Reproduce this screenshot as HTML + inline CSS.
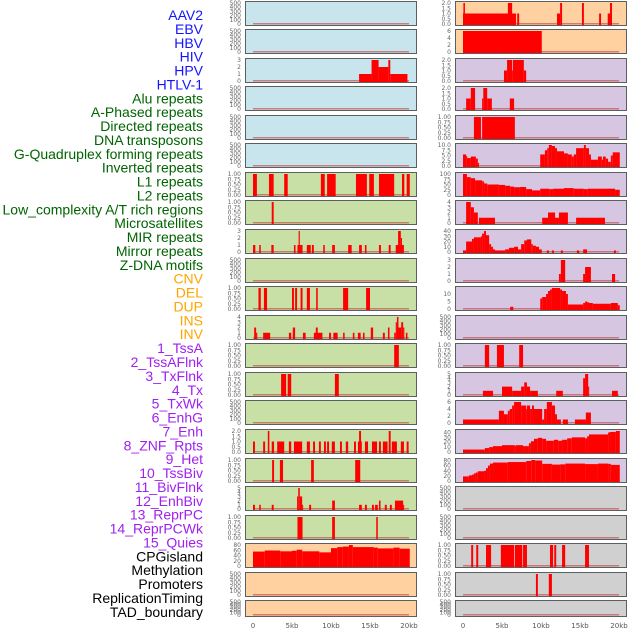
<!DOCTYPE html>
<html><head><meta charset="utf-8">
<style>
html,body{margin:0;padding:0;background:#fff;width:630px;height:630px;overflow:hidden}
svg{display:block}
</style></head>
<body>
<svg id="chart" width="630" height="630" xmlns="http://www.w3.org/2000/svg"></svg>
<script>
const labels=["AAV2","EBV","HBV","HIV","HPV","HTLV-1","Alu repeats","A-Phased repeats","Directed repeats","DNA transposons","G-Quadruplex forming repeats","Inverted repeats","L1 repeats","L2 repeats","Low_complexity A/T rich regions","Microsatellites","MIR repeats","Mirror repeats","Z-DNA motifs","CNV","DEL","DUP","INS","INV","1_TssA","2_TssAFlnk","3_TxFlnk","4_Tx","5_TxWk","6_EnhG","7_Enh","8_ZNF_Rpts","9_Het","10_TssBiv","11_BivFlnk","12_EnhBiv","13_ReprPC","14_ReprPCWk","15_Quies","CPGisland","Methylation","Promoters","ReplicationTiming","TAD_boundary"];
const xTicks=[0,5,10,15,20];
const xTickLabels=["0","5kb","10kb","15kb","20kb"];
const T500=[0,100,200,300,400,500], T1=[0,0.25,0.5,0.75,1], T3=[0,1,2,3], T2=[0,0.5,1,1.5,2];
// Left column segments [startKb,endKb,value]
const L0=[],L1=[],L3=[],L4=[],L5=[],L9=[],L14=[],L20=[],L21=[];
const L2=[[13.6,15.2,1],[15.2,16.1,3],[16.1,17.35,2],[17.35,17.6,3],[17.6,19.8,1]];
const L6=[[0,0.5,1],[2.05,2.65,1],[4.0,4.45,1],[8.7,9.2,1],[9.5,10.6,1],[13.2,14.6,1],[14.9,15.5,1],[16.15,18.1,1],[19.1,19.4,1],[19.7,20.1,1]];
const L7=[[2.4,2.65,1]];
const L8=[[0,0.3,1],[0.8,1.0,1],[2.35,2.65,1],[5.25,5.45,1],[5.7,6.35,1],[5.85,6.0,3],[6.9,7.4,1],[7.55,7.8,1],[9.0,9.2,1],[10.15,10.5,1],[12.2,12.65,1],[13.6,13.95,1],[14.35,14.55,1],[16.15,16.4,1],[17.4,17.65,1],[18.3,19.35,1],[18.6,18.95,3],[18.95,19.1,2]];
const L10=[[0.7,1.0,1],[1.4,1.8,1],[5.0,5.25,1],[5.4,5.65,1],[6.1,6.35,1],[6.9,7.3,1],[8.1,8.3,1],[11.55,12.2,1],[14.5,15.0,1]];
const L11=[[0.15,0.4,2],[0.4,0.55,1],[1.3,2.2,1],[4.6,4.9,1],[5.1,5.4,2],[6.4,6.75,1],[7.8,8.9,1],[8.05,8.3,2],[9.75,10.0,1],[10.3,10.85,1],[11.55,11.75,1],[12.8,13.0,1],[13.45,13.8,1],[14.1,14.3,1],[15.1,15.4,2],[16.65,16.9,1],[17.3,17.5,2],[18.1,18.3,1],[18.3,18.45,3],[18.45,18.65,4],[18.65,19.0,2],[19.0,19.25,3],[19.25,19.4,2],[19.6,19.8,1]];
const L12=[[18.1,18.7,1]];
const L13=[[3.6,4.25,1],[4.45,4.9,1],[10.5,11.0,1]];
const L15=[[0,0.25,1],[1.3,1.55,1],[1.9,2.1,2],[2.4,2.7,1],[3.1,4.0,1],[4.6,4.9,1],[5.25,6.3,1],[6.9,7.3,1],[7.7,7.95,1],[8.45,8.7,1],[9.1,9.35,1],[9.5,9.75,1],[10.1,10.5,1],[11.15,11.4,1],[11.9,12.2,1],[12.95,13.2,1],[13.45,13.95,1],[13.6,13.85,2],[14.35,14.75,1],[15.25,15.9,1],[16.15,16.4,1],[16.65,17.25,1],[17.4,17.65,2],[17.8,18.45,1],[18.95,19.35,1],[19.7,19.95,1]];
const L16=[[2.45,2.7,1],[3.45,3.85,1],[7.45,7.8,1],[13.1,13.75,1]];
const L17=[[0,0.25,1],[0.8,1.0,1],[2.4,2.65,1],[5.65,5.8,3],[5.8,6.0,5],[6.0,6.3,3],[6.3,6.4,1],[7.2,7.45,1],[10.15,10.5,2],[13.6,13.95,1],[14.35,14.6,1],[15.25,15.5,1],[15.65,16.0,1],[16.15,16.35,2],[16.9,17.15,1],[17.55,17.8,1],[18.2,19.25,2],[19.25,19.35,1]];
const L18=[[5.7,6.35,1],[10.15,10.5,1],[15.8,16.0,1]];
const L19=[[0,1.5,55],[1.5,3.5,59],[3.5,5.0,56],[5.0,5.6,58],[5.6,6.3,62],[6.3,8.5,56],[8.5,10,52],[10,10.8,68],[10.8,11.5,72],[11.5,12.3,74],[12.3,12.8,80],[12.8,15.5,72],[15.5,16,70],[16,18,67],[18,18.8,70],[18.8,20.1,66]];
// Right column segments
const R0=[[0,6.8,1],[0.05,0.25,2],[5.75,6.3,2],[6.95,7.2,1],[12.05,12.45,1],[12.45,12.7,2],[15.25,15.5,2],[17.45,17.7,1],[18.55,19.1,1],[18.85,19.1,2]];
const R1=[[0,10.1,6]];
const R2=[[5.25,5.65,1],[5.65,6.3,2],[6.3,6.4,1],[6.4,7.8,2],[7.8,8.1,1]];
const R3=[[0.4,1.0,1],[1.0,1.55,2],[2.45,2.6,1],[2.6,3.1,2],[3.1,3.7,1],[6.0,6.55,1]];
const R4=[[1.4,2.3,1],[2.45,6.65,1]];
const R5=[[0,0.4,5.5],[0.4,0.5,4.8],[0.5,1.0,3.8],[1.0,1.65,4.5],[1.65,1.9,3.5],[1.9,2.05,1.5],[9.9,10.5,5.5],[10.5,10.8,7.5],[10.8,11.0,8.5],[11.0,11.4,10],[11.4,11.8,9.5],[11.8,12.05,8.5],[12.05,12.95,7],[12.95,13.45,6],[13.45,13.95,5.5],[13.95,14.2,4.5],[14.2,14.5,5.5],[14.5,15.5,8.5],[15.5,15.75,10],[15.75,16.15,8.5],[16.15,16.4,5.5],[16.4,17.3,3],[17.3,17.8,4.5],[17.8,17.95,3],[17.95,18.3,4.5],[18.3,18.6,3.5],[18.6,18.95,2],[18.95,19.2,5],[19.2,20.1,6.5]];
const R6=[[0,0.5,100],[0.5,1.0,85],[1.0,1.55,80],[1.55,2.45,70],[2.45,2.7,65],[2.7,3.1,55],[3.1,4.6,50],[4.6,5.4,48],[5.4,6.05,44],[6.05,6.55,40],[6.55,7.3,37],[7.3,8.1,38],[8.1,8.85,28],[8.85,9.9,22],[9.9,11.05,30],[11.05,11.55,28],[11.55,12.95,30],[12.95,14.2,33],[14.2,15.5,30],[15.5,16.0,28],[16.0,19.5,30],[19.5,20.1,25]];
const R7=[[0.4,1.0,4],[1.0,1.4,3],[1.4,1.9,2],[2.05,4.1,1],[10.15,10.9,1],[10.9,11.8,2],[11.8,12.3,1],[12.3,13.45,2],[14.5,18.2,1]];
const R8=[[0,0.4,3],[0.4,1.15,20],[1.15,1.4,25],[1.4,1.8,28],[1.8,2.3,28],[2.3,2.45,30],[2.45,2.7,35],[2.7,2.95,40],[2.95,3.35,32],[3.35,3.6,15],[3.6,3.85,10],[3.85,4.1,5],[4.1,5.4,3],[5.4,5.9,5],[5.9,6.55,8],[6.55,7.05,10],[7.05,7.45,5],[7.45,7.85,15],[7.85,8.2,22],[8.2,8.75,24],[8.75,8.95,15],[8.95,9.35,12],[9.35,9.75,10],[9.75,10.1,5],[10.75,11.0,3],[11.4,11.65,3],[12.55,12.8,3],[14.6,14.9,3],[15.4,15.9,5],[19.35,19.6,3]];
const R9=[[12.3,12.55,1],[12.55,13.1,3],[15.4,15.65,1],[15.65,16.4,2],[19.1,19.5,1]];
const R10=[[6.05,6.45,1.5],[9.9,10.15,7],[10.15,10.65,8],[10.65,10.9,10],[10.9,11.15,12],[11.15,11.4,13],[11.4,12.45,14],[12.45,12.7,13],[12.7,13.2,12],[13.2,13.45,10],[13.45,15.4,3],[15.4,15.65,4],[15.65,15.9,5],[15.9,16.15,4.5],[16.15,16.65,4],[16.65,18.95,3.5],[18.95,19.85,4],[19.85,20.1,2.5]];
const R11=[],R17=[],R18=[],R21=[];
const R12=[[2.8,3.35,1],[4.35,5.25,1],[7.2,7.7,1]];
const R13=[[2.55,3.85,1],[5.0,6.3,2],[6.3,7.45,1],[7.45,7.85,2],[7.85,8.2,3],[8.2,8.6,2],[8.6,9.6,1],[11.95,12.8,1],[15.4,15.65,4],[15.65,16.05,5],[16.05,16.15,2],[19.1,19.85,1]];
const R14=[[0,4.6,1],[4.6,5.25,3.5],[5.25,5.75,2.5],[5.75,6.0,3.5],[6.0,6.3,4],[6.3,6.55,5],[6.55,7.45,6],[7.45,8.1,5],[8.1,8.2,4],[8.2,8.6,5],[8.6,8.85,4],[8.85,9.1,5],[9.1,10.15,4],[10.15,10.4,1],[10.4,10.75,4],[10.75,11.4,6],[11.4,11.8,5],[11.8,12.05,2.5],[12.05,12.55,1],[12.8,13.45,1],[14.35,15.75,1],[15.75,16.4,3]];
const R15=[[0,2.8,5],[2.8,3.35,8],[3.35,3.85,10],[3.85,5.0,12],[5.0,6.65,14],[6.65,6.8,13],[6.8,7.7,14],[7.7,8.45,12],[8.45,8.7,18],[8.7,9.1,22],[9.1,9.6,27],[9.6,10.15,29],[10.15,10.65,27],[10.65,11.65,23],[11.65,12.2,25],[12.2,12.7,23],[12.7,13.35,25],[13.35,13.95,28],[13.95,15.65,30],[15.65,15.9,28],[15.9,16.15,32],[16.15,18.6,36],[18.6,18.85,40],[18.85,19.6,41],[19.6,20.1,43]];
const R16=[[0,0.75,18],[0.75,1.15,22],[1.15,1.4,25],[1.4,1.65,30],[1.65,1.9,33],[1.9,2.7,38],[2.7,2.95,40],[2.95,3.2,50],[3.2,3.45,60],[3.45,3.85,68],[3.85,5.75,72],[5.75,8.1,74],[8.1,8.75,78],[8.75,9.25,82],[9.25,10.15,80],[10.15,11.4,67],[11.4,12.45,64],[12.45,13.1,65],[13.1,15.65,68],[15.65,17.3,66],[17.3,18.6,68],[18.6,18.95,67],[18.95,20.1,63]];
const R19=[[1.05,1.3,1],[1.7,1.95,1],[2.95,3.6,1],[4.85,6.55,1],[6.65,7.6,1],[7.7,8.2,1],[11.15,11.55,1],[11.7,11.95,1],[12.7,13.1,1],[15.65,16.15,1]];
const R20=[[9.35,9.6,1],[11.0,11.4,1]];

const BLUE="#c8e4ec",GREEN="#c8e0a6",ORANGE="#ffd1a0",LAV="#d6c6e2",GRAY="#d0d0d0";
const left=[[L0,T500,500,BLUE],[L1,T500,500,BLUE],[L2,T3,3,BLUE],[L3,T500,500,BLUE],[L4,T500,500,BLUE],[L5,T500,500,BLUE],
[L6,T1,1,GREEN],[L7,T1,1,GREEN],[L8,T3,3,GREEN],[L9,T500,500,GREEN],[L10,T1,1,GREEN],[L11,[0,1,2,3,4],4,GREEN],[L12,T1,1,GREEN],[L13,T1,1,GREEN],[L14,T500,500,GREEN],[L15,T2,2,GREEN],[L16,T1,1,GREEN],[L17,[0,1,2,3,4,5],5,GREEN],[L18,T1,1,GREEN],
[L19,[0,20,40,60,80],80,ORANGE],[L20,T500,500,ORANGE],[L21,T500,500,ORANGE]];
const right=[[R0,T2,2,ORANGE],[R1,[0,2,4,6],6,ORANGE],[R2,T2,2,LAV],[R3,T2,2,LAV],[R4,T1,1,LAV],[R5,[0,2.5,5,7.5,10],10,LAV],[R6,[0,25,50,75,100],100,LAV],[R7,[0,1,2,3,4],4,LAV],[R8,[0,10,20,30,40],40,LAV],[R9,T3,3,LAV],[R10,[0,5,10],14,LAV],[R11,T500,500,LAV],[R12,T1,1,LAV],[R13,[0,1,2,3,4,5],5,LAV],[R14,[0,2,4,6],6,LAV],[R15,[0,10,20,30,40],43,LAV],[R16,[0,20,40,60,80],82,LAV],
[R17,T500,500,GRAY],[R18,T500,500,GRAY],[R19,T1,1,GRAY],[R20,T1,1,GRAY],[R21,T500,500,GRAY]];

const NS="http://www.w3.org/2000/svg";
const svg=document.getElementById("chart");
function mk(tag,attrs,parent){const e=document.createElementNS(NS,tag);for(const k in attrs)e.setAttribute(k,attrs[k]);(parent||svg).appendChild(e);return e;}
function fmt(v,ticks){const mx=Math.max(...ticks);if(mx===1)return v.toFixed(2);if(ticks.some(t=>t%1!==0))return v.toFixed(1);return String(v);}
function labelColor(i){if(i<6)return"#1414ff";if(i<19)return"#006400";if(i<24)return"#ffa500";if(i<39)return"#a020f0";return"#000";}

labels.forEach((t,i)=>{
  const e=mk("text",{x:203,y:15+i*13.88+5,"text-anchor":"end","font-family":"Liberation Sans, sans-serif","font-size":"14",fill:labelColor(i)});
  e.textContent=t;
  
  
});

function drawCol(panels,x0,x1,kb0,colName){
  const xs=kb=>kb0+kb*7.8;
  panels.forEach((p,i)=>{
    const [segs,ticks,ymax,bg]=p;
    const top=Math.round(0.5+i*28.57), h=(i===21?16:24), bot=top+h;
    const ys=v=>bot-1-(v/ymax)*(h-3);
    const g=mk("g",{});
    
    
    const r=mk("rect",{x:x0+0.5,y:top+0.5,width:x1-x0,height:h,fill:bg,stroke:"#5a6060","stroke-width":1},g);
    
    
    ticks.forEach(t=>{
      const tx=mk("text",{x:x0-4,y:ys(t)+2,"text-anchor":"end","font-family":"DejaVu Sans, sans-serif","font-size":"6",fill:"#666"},g);
      tx.textContent=fmt(t,ticks);
      
      
    });
    const bl=mk("rect",{x:xs(0),y:bot-2,width:xs(20)-xs(0),height:1.5,fill:"#c04040",opacity:0.6},g);
    
    
    segs.forEach(s=>{
      const yv=Math.min(s[2],ymax);
      const b=mk("rect",{x:xs(s[0]),y:ys(yv),width:Math.max(1,xs(s[1])-xs(s[0])),height:bot-ys(yv),fill:"#ff0000"},g);
      
      
    });
  });
  xTicks.forEach((t,k)=>{
    const tx=mk("text",{x:xs(t),y:628,"text-anchor":"middle","font-family":"DejaVu Sans, sans-serif","font-size":"7",fill:"#555"});
    tx.textContent=xTickLabels[k];
    
    
  });
}
drawCol(left,245,416,253,'left');
drawCol(right,455,626,463,'right');
</script>
</body></html>
